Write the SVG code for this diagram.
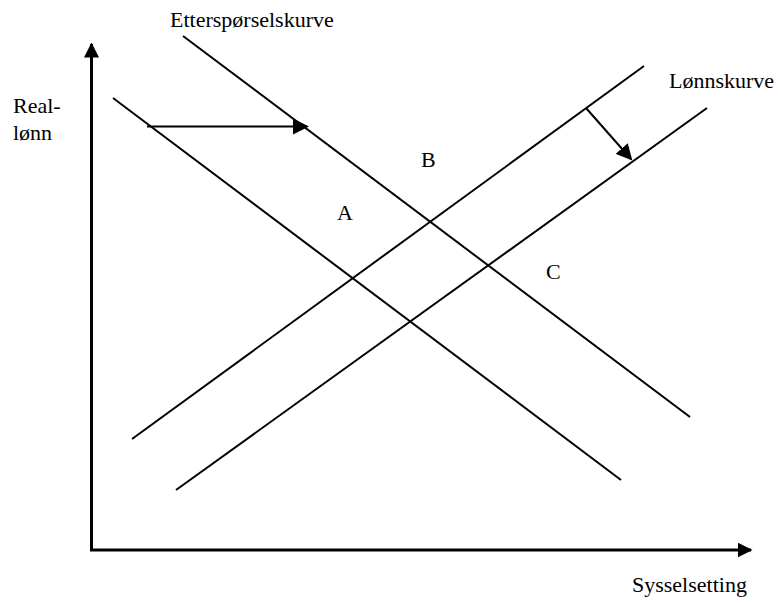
<svg xmlns="http://www.w3.org/2000/svg" width="778" height="604" viewBox="0 0 778 604">
<style>
text{font-family:'Liberation Serif','Times New Roman',Times,'DejaVu Serif',serif;font-size:22px;fill:#000}
.c{stroke:#000;stroke-width:2;fill:none}
.ax{stroke:#000;stroke-width:3;fill:none}
</style>
<defs>
<marker id="ah" markerWidth="8" markerHeight="8" refX="7" refY="4" orient="auto" markerUnits="strokeWidth">
<path d="M0,0 L8,4 L0,8 Z" fill="#000"/>
</marker>
<marker id="ahx" markerWidth="5" markerHeight="5" refX="4.5" refY="2.5" orient="auto" markerUnits="strokeWidth">
<path d="M0,0 L5,2.5 L0,5 Z" fill="#000"/>
</marker>
</defs>
<rect width="778" height="604" fill="#fff"/>
<g id="axes">
<line class="ax" x1="91.5" y1="551" x2="91.5" y2="44" marker-end="url(#ahx)"/>
<line class="ax" x1="90" y1="550" x2="751" y2="550" marker-end="url(#ahx)"/>
</g>
<g id="demand-original"><line class="c" x1="113" y1="98" x2="621" y2="480"/></g>
<g id="demand-shifted"><line class="c" x1="183" y1="36" x2="690" y2="417"/></g>
<g id="wage-upper"><line class="c" x1="132" y1="439" x2="644" y2="66"/></g>
<g id="wage-lower"><line class="c" x1="176" y1="490" x2="707" y2="108"/></g>
<g id="connectors">
<line class="c" x1="147" y1="126.5" x2="307" y2="126.5" marker-end="url(#ah)"/>
<line class="c" x1="586" y1="108" x2="631" y2="159" marker-end="url(#ah)"/>
</g>
<g id="labels" font-family="Liberation Serif, serif">
<text x="170" y="27">Etterspørselskurve</text>
<text x="669" y="88">Lønnskurve</text>
<text x="13" y="113">Real-</text>
<text x="13" y="140">lønn</text>
<text x="337" y="220">A</text>
<text x="421" y="167">B</text>
<text x="546" y="279">C</text>
<text x="632" y="592">Sysselsetting</text>
</g>
</svg>
